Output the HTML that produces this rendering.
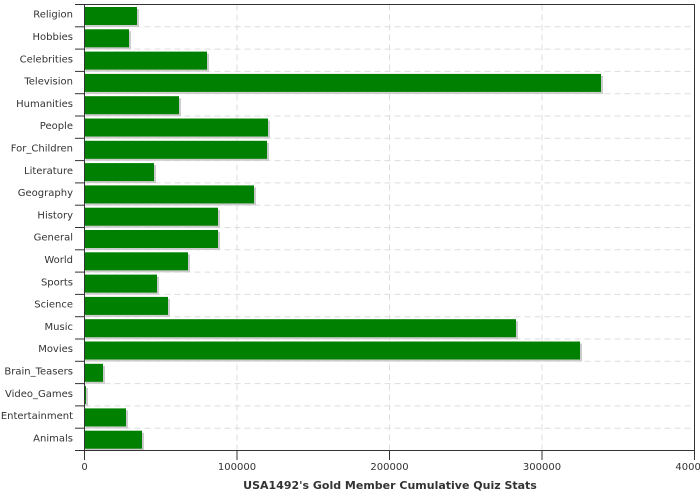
<!DOCTYPE html>
<html><head><meta charset="utf-8"><style>body{margin:0;background:#fff}svg{display:block}</style></head><body>
<svg width="700" height="500" xmlns="http://www.w3.org/2000/svg" font-family="DejaVu Sans, sans-serif">
<rect width="700" height="500" fill="#fff"/>
<g stroke="#ddd" stroke-dasharray="6,4">
<line x1="84.5" x2="694.5" y1="26.8" y2="26.8"/><line x1="84.5" x2="694.5" y1="49.1" y2="49.1"/><line x1="84.5" x2="694.5" y1="71.4" y2="71.4"/><line x1="84.5" x2="694.5" y1="93.7" y2="93.7"/><line x1="84.5" x2="694.5" y1="116" y2="116"/><line x1="84.5" x2="694.5" y1="138.3" y2="138.3"/><line x1="84.5" x2="694.5" y1="160.6" y2="160.6"/><line x1="84.5" x2="694.5" y1="182.9" y2="182.9"/><line x1="84.5" x2="694.5" y1="205.2" y2="205.2"/><line x1="84.5" x2="694.5" y1="227.5" y2="227.5"/><line x1="84.5" x2="694.5" y1="249.8" y2="249.8"/><line x1="84.5" x2="694.5" y1="272.1" y2="272.1"/><line x1="84.5" x2="694.5" y1="294.4" y2="294.4"/><line x1="84.5" x2="694.5" y1="316.7" y2="316.7"/><line x1="84.5" x2="694.5" y1="339" y2="339"/><line x1="84.5" x2="694.5" y1="361.3" y2="361.3"/><line x1="84.5" x2="694.5" y1="383.6" y2="383.6"/><line x1="84.5" x2="694.5" y1="405.9" y2="405.9"/><line x1="84.5" x2="694.5" y1="428.2" y2="428.2"/>
<line x1="237" x2="237" y1="4.5" y2="450.5"/><line x1="389.5" x2="389.5" y1="4.5" y2="450.5"/><line x1="542" x2="542" y1="4.5" y2="450.5"/>
</g>
<g fill="#ccc">
<rect x="85.5" y="9" width="53.5" height="18"/>
<rect x="85.5" y="31.3" width="45.5" height="18"/>
<rect x="85.5" y="53.6" width="123.5" height="18"/>
<rect x="85.5" y="75.9" width="517.5" height="18"/>
<rect x="85.5" y="98.2" width="95.5" height="18"/>
<rect x="85.5" y="120.5" width="184.5" height="18"/>
<rect x="85.5" y="142.8" width="183.5" height="18"/>
<rect x="85.5" y="165.1" width="70.5" height="18"/>
<rect x="85.5" y="187.4" width="170.5" height="18"/>
<rect x="85.5" y="209.7" width="134.5" height="18"/>
<rect x="85.5" y="232" width="134.5" height="18"/>
<rect x="85.5" y="254.3" width="104.5" height="18"/>
<rect x="85.5" y="276.6" width="73.5" height="18"/>
<rect x="85.5" y="298.9" width="84.5" height="18"/>
<rect x="85.5" y="321.2" width="432.5" height="18"/>
<rect x="85.5" y="343.5" width="496.5" height="18"/>
<rect x="85.5" y="365.8" width="19.5" height="18"/>
<rect x="85.5" y="388.1" width="2.5" height="18"/>
<rect x="85.5" y="410.4" width="42.5" height="18"/>
<rect x="85.5" y="432.7" width="58.5" height="18"/>
</g>
<g fill="#008000">
<rect x="84.5" y="7" width="52.5" height="18"/>
<rect x="84.5" y="29.3" width="44.5" height="18"/>
<rect x="84.5" y="51.6" width="122.5" height="18"/>
<rect x="84.5" y="73.9" width="516.5" height="18"/>
<rect x="84.5" y="96.2" width="94.5" height="18"/>
<rect x="84.5" y="118.5" width="183.5" height="18"/>
<rect x="84.5" y="140.8" width="182.5" height="18"/>
<rect x="84.5" y="163.1" width="69.5" height="18"/>
<rect x="84.5" y="185.4" width="169.5" height="18"/>
<rect x="84.5" y="207.7" width="133.5" height="18"/>
<rect x="84.5" y="230" width="133.5" height="18"/>
<rect x="84.5" y="252.3" width="103.5" height="18"/>
<rect x="84.5" y="274.6" width="72.5" height="18"/>
<rect x="84.5" y="296.9" width="83.5" height="18"/>
<rect x="84.5" y="319.2" width="431.5" height="18"/>
<rect x="84.5" y="341.5" width="495.5" height="18"/>
<rect x="84.5" y="363.8" width="18.5" height="18"/>
<rect x="84.5" y="386.1" width="1.5" height="18"/>
<rect x="84.5" y="408.4" width="41.5" height="18"/>
<rect x="84.5" y="430.7" width="57.5" height="18"/>
</g>
<g stroke="#333">
<line x1="75" x2="84.5" y1="4.5" y2="4.5"/><line x1="75" x2="84.5" y1="26.8" y2="26.8"/><line x1="75" x2="84.5" y1="49.1" y2="49.1"/><line x1="75" x2="84.5" y1="71.4" y2="71.4"/><line x1="75" x2="84.5" y1="93.7" y2="93.7"/><line x1="75" x2="84.5" y1="116" y2="116"/><line x1="75" x2="84.5" y1="138.3" y2="138.3"/><line x1="75" x2="84.5" y1="160.6" y2="160.6"/><line x1="75" x2="84.5" y1="182.9" y2="182.9"/><line x1="75" x2="84.5" y1="205.2" y2="205.2"/><line x1="75" x2="84.5" y1="227.5" y2="227.5"/><line x1="75" x2="84.5" y1="249.8" y2="249.8"/><line x1="75" x2="84.5" y1="272.1" y2="272.1"/><line x1="75" x2="84.5" y1="294.4" y2="294.4"/><line x1="75" x2="84.5" y1="316.7" y2="316.7"/><line x1="75" x2="84.5" y1="339" y2="339"/><line x1="75" x2="84.5" y1="361.3" y2="361.3"/><line x1="75" x2="84.5" y1="383.6" y2="383.6"/><line x1="75" x2="84.5" y1="405.9" y2="405.9"/><line x1="75" x2="84.5" y1="428.2" y2="428.2"/><line x1="75" x2="84.5" y1="450.5" y2="450.5"/>
<line x1="84.5" x2="84.5" y1="450.5" y2="460"/><line x1="237" x2="237" y1="450.5" y2="460"/><line x1="389.5" x2="389.5" y1="450.5" y2="460"/><line x1="542" x2="542" y1="450.5" y2="460"/><line x1="694.5" x2="694.5" y1="450.5" y2="460"/>
<rect x="84.5" y="4.5" width="610" height="446" fill="none"/>
</g>
<g font-size="10" text-anchor="end" fill="#333">
<text x="73" y="17.7">Religion</text><text x="73" y="40">Hobbies</text><text x="73" y="62.3">Celebrities</text><text x="73" y="84.6">Television</text><text x="73" y="106.9">Humanities</text><text x="73" y="129.2">People</text><text x="73" y="151.5">For_Children</text><text x="73" y="173.8">Literature</text><text x="73" y="196.1">Geography</text><text x="73" y="218.4">History</text><text x="73" y="240.7">General</text><text x="73" y="263">World</text><text x="73" y="285.3">Sports</text><text x="73" y="307.6">Science</text><text x="73" y="329.9">Music</text><text x="73" y="352.2">Movies</text><text x="73" y="374.5">Brain_Teasers</text><text x="73" y="396.8">Video_Games</text><text x="73" y="419.1">Entertainment</text><text x="73" y="441.4">Animals</text>
</g>
<g font-size="10" text-anchor="middle" fill="#333">
<text x="84.5" y="470">0</text><text x="237" y="470">100000</text><text x="389.5" y="470">200000</text><text x="542" y="470">300000</text><text x="694.5" y="470">400000</text>
</g>
<text x="390" y="489" font-size="11" font-weight="bold" text-anchor="middle" fill="#333">USA1492's Gold Member Cumulative Quiz Stats</text>
</svg>
</body></html>
